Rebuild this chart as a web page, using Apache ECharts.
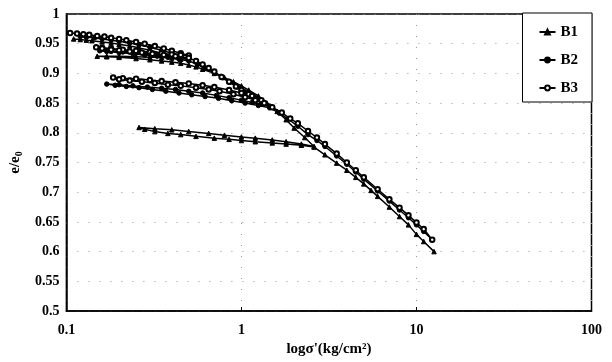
<!DOCTYPE html>
<html><head><meta charset="utf-8">
<script src="https://cdn.jsdelivr.net/npm/echarts@6/dist/echarts.min.js"></script>
<style>html,body{margin:0;padding:0;background:#fff}#c{width:612px;height:362px}</style>
</head><body><div id="c"></div>
<script>
var seriesNames = ['B1', 'B2', 'B3'];
var xTicks = [0.1, 1, 10, 100];
var yTicks = [0.5, 0.55, 0.6, 0.65, 0.7, 0.75, 0.8, 0.85, 0.9, 0.95, 1];

var b1 = [
  [0.11,0.958],[0.12,0.957],[0.13,0.956],[0.14,0.955],[0.16,0.953],[0.18,0.951],[0.2,0.949],[0.23,0.946],[0.26,0.943],[0.3,0.939],[0.35,0.934],[0.4,0.929],[0.45,0.924],
  [0.4,0.926],[0.35,0.927],[0.3,0.927],[0.25,0.928],[0.2,0.929],[0.17,0.929],[0.15,0.929],
  [0.17,0.928],[0.2,0.927],[0.25,0.925],[0.3,0.923],[0.35,0.921],[0.4,0.919],[0.45,0.917],[0.5,0.914],[0.55,0.911],[0.6,0.907],[0.7,0.900],[0.8,0.893],[0.9,0.886],[1.0,0.879],[1.1,0.872],[1.25,0.862],[1.4,0.850],[1.6,0.836],[1.8,0.822],[2.0,0.808],[2.3,0.792],[2.6,0.777],
  [2.2,0.781],[1.8,0.785],[1.5,0.788],[1.2,0.791],[1.0,0.793],[0.8,0.796],[0.65,0.799],[0.5,0.802],[0.4,0.805],[0.32,0.807],[0.26,0.809],
  [0.28,0.806],[0.32,0.802],[0.38,0.799],[0.45,0.797],[0.55,0.794],[0.7,0.791],[0.85,0.789],[1.0,0.787],[1.2,0.785],[1.5,0.783],[1.8,0.781],[2.2,0.779],[2.6,0.776],
  [3.0,0.763],[3.5,0.749],[4,0.737],[4.5,0.725],[5,0.714],[5.5,0.703],[6,0.693],[7,0.675],[8,0.659],[9,0.645],[10,0.629],[11,0.617],[12.6,0.600]
];

var b2 = [
  [0.12,0.962],[0.13,0.961],[0.145,0.960],[0.16,0.958],[0.18,0.956],[0.2,0.954],[0.23,0.951],[0.26,0.948],[0.3,0.944],[0.35,0.939],[0.4,0.934],[0.45,0.929],[0.5,0.924],
  [0.45,0.926],[0.4,0.928],[0.35,0.930],[0.3,0.932],[0.25,0.934],[0.21,0.936],[0.18,0.937],[0.155,0.938],
  [0.17,0.937],[0.2,0.935],[0.24,0.933],[0.28,0.931],[0.33,0.929],[0.38,0.927],[0.44,0.924],[0.5,0.921],
  [0.56,0.915],[0.62,0.909],[0.7,0.901],[0.78,0.893],[0.86,0.885],[0.95,0.877],[1.05,0.869],[1.15,0.862],[1.3,0.853],[1.45,0.845],
  [1.3,0.848],[1.15,0.851],[1.0,0.855],[0.85,0.859],[0.72,0.863],[0.6,0.867],[0.5,0.870],[0.42,0.873],[0.35,0.875],[0.29,0.877],[0.24,0.879],[0.2,0.881],[0.17,0.882],
  [0.19,0.880],[0.22,0.878],[0.26,0.876],[0.31,0.873],[0.37,0.870],[0.44,0.867],[0.52,0.864],[0.62,0.861],[0.74,0.858],[0.88,0.854],[1.05,0.850],[1.25,0.846],[1.45,0.842],
  [1.65,0.833],[1.85,0.823],[2.1,0.811],[2.4,0.797],[2.7,0.787],[3,0.777],[3.5,0.761],[4,0.747],[4.5,0.734],[5,0.722],[6,0.702],[7,0.685],[8,0.670],[9,0.657],[10,0.645],[11,0.634],[12.3,0.620]
];

var b3 = [
  [0.105,0.968],[0.115,0.967],[0.125,0.966],[0.135,0.965],[0.15,0.963],[0.165,0.962],[0.18,0.960],[0.2,0.958],[0.22,0.956],[0.25,0.953],[0.28,0.950],[0.32,0.946],[0.36,0.942],[0.4,0.938],[0.45,0.934],[0.5,0.930],
  [0.45,0.931],[0.4,0.932],[0.35,0.934],[0.3,0.936],[0.25,0.938],[0.21,0.940],[0.18,0.942],[0.16,0.943],[0.148,0.944],
  [0.16,0.942],[0.18,0.940],[0.2,0.939],[0.23,0.937],[0.27,0.935],[0.31,0.933],[0.36,0.931],[0.42,0.929],[0.5,0.926],
  [0.55,0.921],[0.6,0.915],[0.65,0.909],[0.7,0.903],[0.77,0.894],[0.85,0.886],[0.93,0.878],[1.0,0.872],[1.1,0.865],[1.2,0.858],[1.3,0.855],
  [1.15,0.862],[1.0,0.867],[0.85,0.872],[0.7,0.877],[0.6,0.880],[0.5,0.883],[0.42,0.885],[0.35,0.887],[0.3,0.889],[0.25,0.891],[0.21,0.892],[0.185,0.893],
  [0.2,0.890],[0.23,0.888],[0.27,0.886],[0.32,0.884],[0.38,0.881],[0.45,0.879],[0.55,0.876],[0.65,0.873],[0.75,0.870],[0.9,0.865],[1.05,0.860],[1.2,0.855],[1.35,0.850],
  [1.5,0.843],[1.7,0.834],[1.9,0.824],[2.1,0.816],[2.4,0.803],[2.7,0.792],[3,0.781],[3.5,0.765],[4,0.750],[4.5,0.737],[5,0.725],[6,0.705],[7,0.688],[8,0.674],[9,0.661],[10,0.649],[11,0.638],[12.3,0.620]
];

var FONT = '"Liberation Serif", "Times New Roman", serif';
var chart = echarts.init(document.getElementById('c'), null, {renderer: 'canvas'});
var dotted = {show: true, lineStyle: {color: '#999', width: 1, type: [1, 10]}};

function mk(name, data, symbol) {
  return {
    name: name, type: 'line', data: data, symbol: symbol, symbolSize: 4.5,
    showAllSymbol: true, animation: false,
    lineStyle: {color: '#000', width: 1.5},
    itemStyle: {color: '#000', borderColor: '#000', borderWidth: 1}
  };
}

chart.setOption({
  animation: false,
  backgroundColor: '#fff',
  grid: {left: 62, right: 20.5, top: 14, bottom: 49, show: true, borderColor: '#000', borderWidth: 1.5, backgroundColor: 'transparent'},
  legend: {
    data: seriesNames, orient: 'vertical', right: 20, top: 13,
    backgroundColor: '#fff', borderColor: '#000', borderWidth: 1,
    padding: [11, 14, 6, 16], itemGap: 12, itemWidth: 16, itemHeight: 6,
    textStyle: {fontFamily: FONT, fontWeight: 'bold', fontSize: 15, color: '#000', lineHeight: 16}
  },
  xAxis: {
    type: 'log', logBase: 10, min: xTicks[0], max: xTicks[xTicks.length - 1],
    name: "logσ'(kg/cm²)", nameLocation: 'middle', nameGap: 31,
    nameTextStyle: {fontFamily: FONT, fontWeight: 'bold', fontSize: 15, color: '#000'},
    axisLine: {lineStyle: {color: '#000', width: 1.5}},
    axisTick: {show: true, inside: true, length: 4, lineStyle: {color: '#000'}},
    axisLabel: {fontFamily: FONT, fontWeight: 'bold', fontSize: 14, color: '#000', margin: 12,
      formatter: function (v) { return String(v); }},
    splitLine: dotted
  },
  yAxis: {
    type: 'value', min: yTicks[0], max: yTicks[yTicks.length - 1], interval: 0.05,
    name: '{a|e/e}{s|0}', nameLocation: 'middle', nameGap: 40, nameRotate: 90,
    nameTextStyle: {fontFamily: FONT, fontWeight: 'bold', fontSize: 15, color: '#000',
      rich: {a: {fontFamily: FONT, fontWeight: 'bold', fontSize: 15, color: '#000'},
             s: {fontFamily: FONT, fontWeight: 'bold', fontSize: 10, color: '#000', padding: [7, 0, 0, 0]}}},
    axisLine: {lineStyle: {color: '#000', width: 1.5}},
    axisTick: {show: false},
    axisLabel: {fontFamily: FONT, fontWeight: 'bold', fontSize: 14, color: '#000', margin: 7,
      formatter: function (v) { return String(Math.round(v * 100) / 100); }},
    splitLine: dotted
  },
  series: [mk('B1', b1, 'triangle'), mk('B2', b2, 'circle'), mk('B3', b3, 'emptyCircle')]
});
</script></body></html>
